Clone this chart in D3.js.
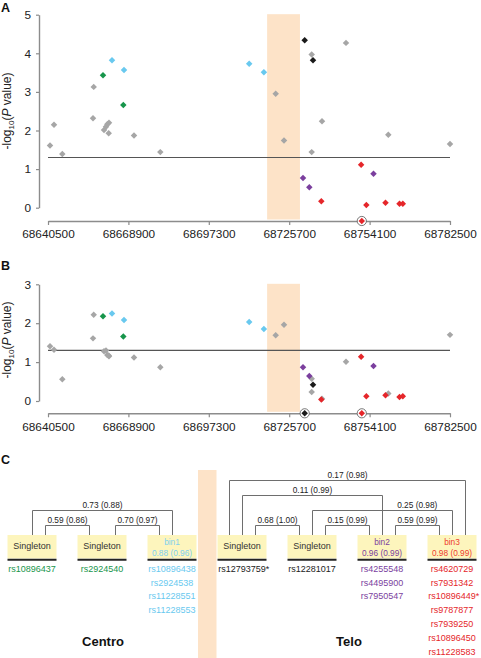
<!DOCTYPE html>
<html><head><meta charset="utf-8">
<script src="https://cdn.jsdelivr.net/npm/d3@7"></script>
<style>
body{margin:0;background:#fff;}
svg{display:block;font-family:"Liberation Sans",Arial,Helvetica,sans-serif;}
</style>
</head><body>
<svg id="chart" width="481" height="658"></svg>
<script>
// ---------------- DATA ----------------
const xTicks = [68640500, 68668900, 68697300, 68725700, 68754100, 68782500];
const recombBand = [68717900, 68729500];
const threshold = 1.3;

const snpPos = [68641206, 68642619, 68645551, 68656650, 68656400, 68659927, 68660281, 68660987,
  68661447, 68662047, 68661941, 68663107, 68667098, 68667346, 68670878, 68680167,
  68711572, 68716764, 68720933, 68723864, 68730574, 68731175, 68732799, 68733647,
  68733647, 68734106, 68737038, 68737285, 68745762, 68751340, 68751100, 68752950,
  68755476, 68759715, 68760704, 68764660, 68765826, 68782500];
const snpGroup = ["other","other","other","other","other","centro","other","other",
  "other","other","other","bin1","centro","bin1","other","other",
  "bin1","bin1","other","other","bin2","telo","bin2","other",
  "other","telo","bin3","other","other","bin3","bin3","bin3",
  "bin2","bin3","other","bin3","bin3","other"];
// -log10(P); null = not available (drawn circled on the axis)
const valuesA = [1.61, 2.15, 1.39, 3.13, 2.32, 3.43, 2.01, 2.10,
  2.16, 2.20, 1.93, 3.82, 2.66, 3.57, 1.87, 1.44,
  3.73, 3.51, 2.95, 1.74, 0.77, 4.34, 0.53, 3.97,
  1.44, 3.82, 0.17, 2.24, 4.27, null, 1.11, 0.07,
  0.88, 0.13, 1.89, 0.10, 0.10, 1.65];
const valuesB = [1.41, 1.32, 0.56, 2.22, 1.61, 2.18, 1.28, 1.30,
  1.18, 1.15, 1.17, 2.25, 1.66, 2.08, 1.12, 0.87,
  2.03, 1.85, 1.69, 1.96, 0.87, null, 0.64, 0.57,
  0.23, 0.42, 0.04, 0.06, 1.01, null, 1.14, 0.12,
  0.90, 0.15, 0.19, 0.10, 0.12, 1.70];

// Panel C
const boxLabels = ["Singleton", "Singleton", "bin1", "Singleton", "Singleton", "bin2", "bin3"];
const boxR2 = [null, null, "0.88 (0.96)", null, null, "0.96 (0.99)", "0.98 (0.99)"];
const boxGroup = ["centro", "centro", "bin1", "telo", "telo", "bin2", "bin3"];
const boxSnps = [
  ["rs10896437"],
  ["rs2924540"],
  ["rs10896438", "rs2924538", "rs11228551", "rs11228553"],
  ["rs12793759*"],
  ["rs12281017"],
  ["rs4255548", "rs4495900", "rs7950547"],
  ["rs4620729", "rs7931342", "rs10896449*", "rs9787877", "rs7939250", "rs10896450", "rs11228583"]
];
const linkLabels = ["0.73 (0.88)", "0.59 (0.86)", "0.70 (0.97)", "0.17 (0.98)", "0.11 (0.99)",
  "0.25 (0.98)", "0.68 (1.00)", "0.15 (0.99)", "0.59 (0.99)"];
const linkFrom = [0, 0, 1, 3, 3, 4, 3, 4, 5];
const linkTo   = [2, 1, 2, 6, 5, 6, 4, 5, 6];
const linkFromSlot = [0, 1, 1, -1, 0, 0, 1, 1, 1];
const linkToSlot   = [0, -1, -1, 1, 0, 0, -1, -1, -1];
const linkLevel = [2, 1, 1, 4, 3, 2, 1, 1, 1];
const linkLabelStartBox = [null, null, null, null, null, 5, null, null, null];
const regionLabels = ["Centro", "Telo"];
const regionBoxes = [[0, 2], [3, 6]];

// ---------------- STYLE ----------------
const groupColor = {other: "#a6a6a6", centro: "#17954b", bin1: "#69c9ef", telo: "#1a1a1a", bin2: "#7b3f9e", bin3: "#e5262a"};
const boxTextColor = {centro: "#333", bin1: "#7fd0ef", telo: "#333", bin2: "#7b3f9e", bin3: "#ee3b2f"};
const bandColor = "#fde3c8";
const axisColor = "#8c8c8c";

const svg = d3.select("#chart");
const x = d3.scaleLinear().domain([xTicks[0], xTicks[xTicks.length - 1]]).range([48, 450]);
const marker = d3.symbol().type(d3.symbolSquare).size(21);

function yLabel(g, cx, cy) {
  const t = g.append("text").attr("transform", `translate(${cx},${cy}) rotate(-90)`)
    .attr("text-anchor", "middle").attr("font-size", 12).attr("fill", "#222");
  t.append("tspan").text("-log");
  t.append("tspan").attr("font-size", 8).attr("dy", 3).text("10");
  t.append("tspan").attr("dy", -3).text("(");
  t.append("tspan").attr("font-style", "italic").text("P");
  t.append("tspan").text(" value)");
}

function drawPanel(vals, yMax, yTop, yZero, xAxisY, letter, letterY, labelCy) {
  const g = svg.append("g");
  const y = d3.scaleLinear().domain([0, yMax]).range([yZero, yTop]);
  // recombination band
  g.append("rect").attr("x", x(recombBand[0])).attr("width", x(recombBand[1]) - x(recombBand[0]))
    .attr("y", yTop - 0.5).attr("height", xAxisY - 1.5 - yTop + 0.5).attr("fill", bandColor);
  // y axis
  const ya = g.append("g").attr("transform", "translate(39,0)")
    .call(d3.axisLeft(y).tickValues(d3.range(0, yMax + 1)).tickSize(3).tickSizeOuter(0).tickPadding(5).tickFormat(d3.format("d")));
  // x axis
  const xa = g.append("g").attr("transform", `translate(0,${xAxisY})`)
    .call(d3.axisBottom(x).tickValues(xTicks).tickSize(4).tickSizeOuter(0).tickPadding(5).tickFormat(d => String(d)));
  [ya, xa].forEach(a => {
    a.select(".domain").attr("stroke", axisColor).attr("stroke-width", 1.4);
    a.selectAll(".tick line").attr("stroke", axisColor).attr("stroke-width", 1.2);
    a.selectAll(".tick text").attr("fill", "#222").attr("font-size", 11.8)
      .attr("font-family", '"Liberation Sans",Arial,sans-serif');
  });
  // threshold
  g.append("line").attr("x1", x(xTicks[0])).attr("x2", x(xTicks[xTicks.length - 1]))
    .attr("y1", y(threshold)).attr("y2", y(threshold)).attr("stroke", "#555").attr("stroke-width", 1.2);
  // points: gray first, colored on top
  const idx = d3.range(snpPos.length).sort((a, b) => (snpGroup[a] === "other" ? 0 : 1) - (snpGroup[b] === "other" ? 0 : 1));
  idx.forEach(i => {
    const v = vals[i];
    const px = x(snpPos[i]);
    const py = v === null ? xAxisY : y(v);
    if (v === null) {
      g.append("circle").attr("cx", px).attr("cy", py).attr("r", 4.6)
        .attr("fill", "#fff").attr("stroke", "#555").attr("stroke-width", 0.8);
    }
    g.append("path").attr("d", marker).attr("transform", `translate(${px},${py}) rotate(45)`)
      .attr("fill", groupColor[snpGroup[i]]);
  });
  yLabel(g, 11, labelCy);
  svg.append("text").attr("x", 1).attr("y", letterY).attr("font-size", 12.5).attr("font-weight", "bold")
    .attr("fill", "#111").text(letter);
}

drawPanel(valuesA, 5, 14.7, 207.7, 221, "A", 11.5, 111);
drawPanel(valuesB, 3, 284.3, 401, 413.3, "B", 269.5, 340);

// ---------------- PANEL C ----------------
const gc = svg.append("g");
const cx = d3.scalePoint().domain(d3.range(boxLabels.length)).range([32, 452]);
const boxW = 49, boxTop = 535, boxBottom = 558.5, slotOff = 13.2;
const levelY = d3.scaleLinear().domain([1, 4]).range([524.5, 480]);

// band between centromeric and telomeric groups
gc.append("rect").attr("x", cx(2) + boxW / 2 + 1.5).attr("width", cx(3) - cx(2) - boxW - 2.5)
  .attr("y", 470).attr("height", 188).attr("fill", bandColor);

svg.append("text").attr("x", 1).attr("y", 463.5).attr("font-size", 12.5).attr("font-weight", "bold")
  .attr("fill", "#111").text("C");

// tree links
linkLabels.forEach((lab, i) => {
  const x1 = Math.round(cx(linkFrom[i]) + linkFromSlot[i] * slotOff) + 0.5;
  const x2 = Math.round(cx(linkTo[i]) + linkToSlot[i] * slotOff) + 0.5;
  const ly = Math.round(levelY(linkLevel[i])) + 0.5;
  gc.append("path").attr("d", `M${x1},${boxTop}V${ly}H${x2}V${boxTop}`)
    .attr("fill", "none").attr("stroke", "#6e6e6e").attr("stroke-width", 1);
  const startX = linkLabelStartBox[i] === null ? x1 : cx(linkLabelStartBox[i]);
  gc.append("text").attr("x", (startX + x2) / 2).attr("y", ly - 2.6)
    .attr("text-anchor", "middle").attr("font-size", 8.3).attr("fill", "#222").text(lab);
});

// boxes
boxLabels.forEach((lab, i) => {
  const c = cx(i);
  gc.append("rect").attr("x", c - boxW / 2).attr("y", boxTop).attr("width", boxW)
    .attr("height", boxBottom - boxTop).attr("fill", "#fdf5bd");
  gc.append("line").attr("x1", c - boxW / 2).attr("x2", c + boxW / 2)
    .attr("y1", 559.8).attr("y2", 559.8).attr("stroke", "#222").attr("stroke-width", 2);
  const col = boxTextColor[boxGroup[i]];
  if (boxR2[i] === null) {
    gc.append("text").attr("x", c).attr("y", 549.3).attr("text-anchor", "middle")
      .attr("font-size", 9).attr("fill", col).text(lab);
  } else {
    gc.append("text").attr("x", c).attr("y", 545).attr("text-anchor", "middle")
      .attr("font-size", 8.3).attr("fill", col).text(lab);
    gc.append("text").attr("x", c).attr("y", 555.6).attr("text-anchor", "middle")
      .attr("font-size", 8.3).attr("fill", col).text(boxR2[i]);
  }
  boxSnps[i].forEach((name, k) => {
    const star = name.endsWith("*");
    const base = star ? name.slice(0, -1) : name;
    const yy = 571.6 + k * 13.9;
    const t = gc.append("text").attr("x", c).attr("y", yy).attr("text-anchor", "middle")
      .attr("font-size", 9).attr("fill", groupColor[boxGroup[i]] === "#1a1a1a" ? "#222" : groupColor[boxGroup[i]]).text(base);
    if (star) {
      const w = t.node().getComputedTextLength();
      gc.append("text").attr("x", c + w / 2).attr("y", yy).attr("font-size", 9)
        .attr("fill", groupColor[boxGroup[i]] === "#1a1a1a" ? "#222" : groupColor[boxGroup[i]]).text("*");
    }
  });
});

regionLabels.forEach((lab, i) => {
  const [a, b] = regionBoxes[i];
  gc.append("text").attr("x", (cx(a) + cx(b)) / 2 + (i === 1 ? 2 : 1)).attr("y", 646.3)
    .attr("text-anchor", "middle").attr("font-size", 13).attr("font-weight", "bold")
    .attr("fill", "#111").text(lab);
});
</script>
</body></html>
